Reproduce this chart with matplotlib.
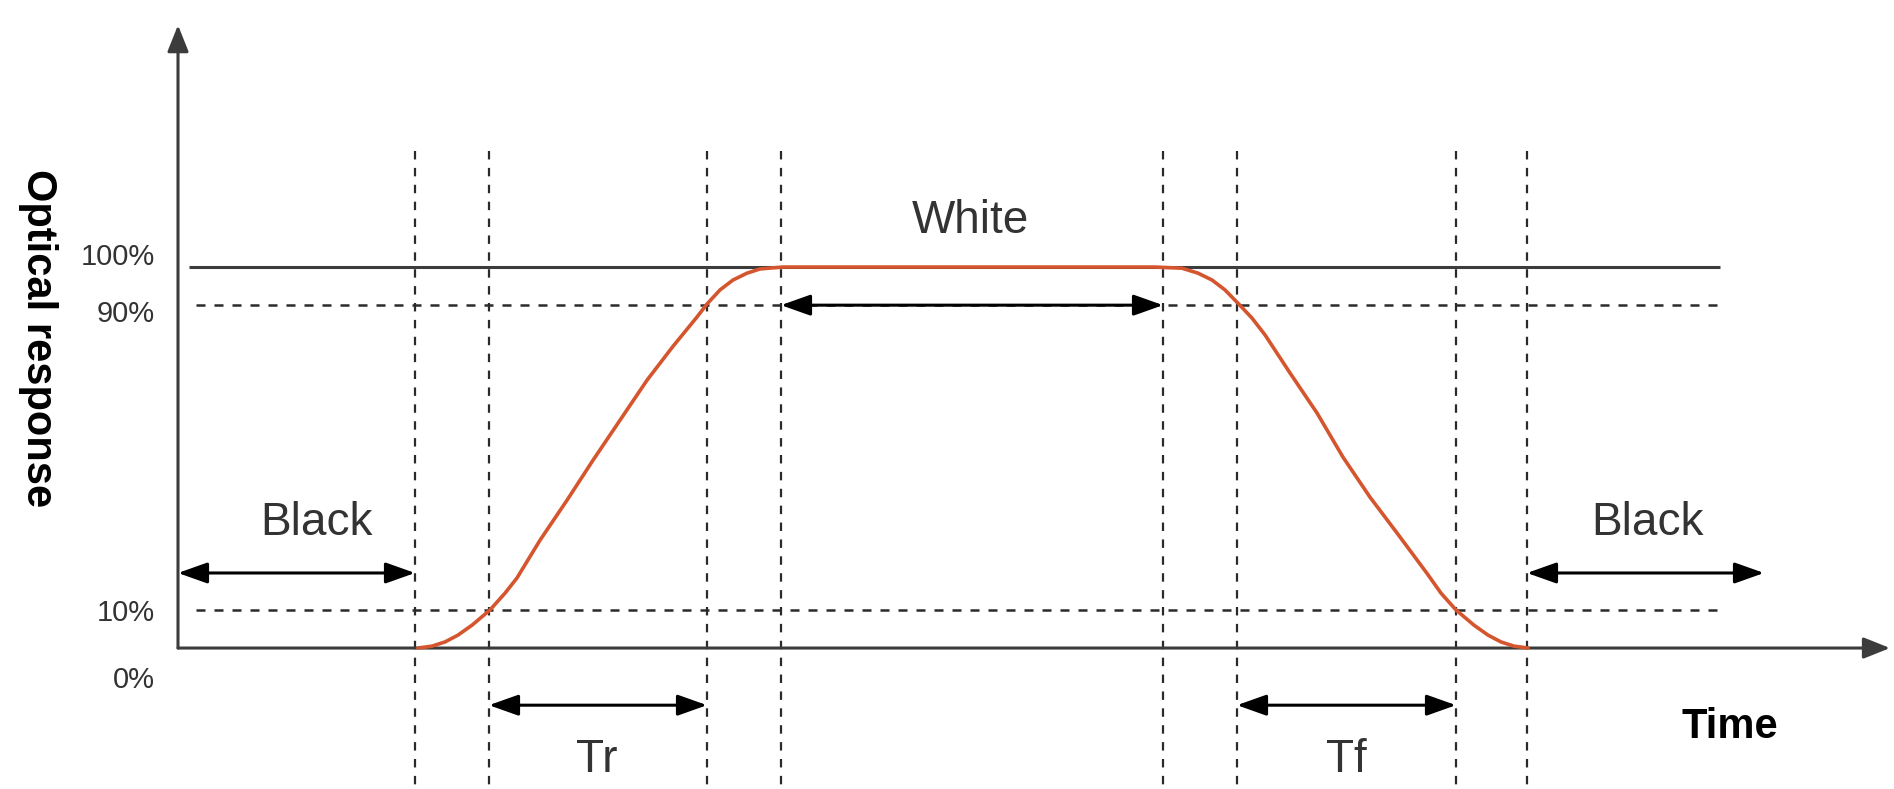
import matplotlib.pyplot as plt

plt.rcParams['font.family'] = ['Liberation Sans', 'DejaVu Sans']

# time axis in arbitrary units, response in percent
levels = [0, 10, 90, 100]
level_labels = ['0%', '10%', '90%', '100%']

# instants where the response passes 0/10/90/100 % (rise, then fall)
marks = [23.7, 31.1, 52.9, 60.3, 98.5, 105.9, 127.8, 134.9]

# optical response
resp_t = [24.0, 25.4, 26.7, 28.0, 29.4, 31.2, 32.7, 33.9, 36.2, 38.9, 41.5,
          44.2, 46.9, 49.5, 50.5, 51.9, 52.9, 54.2, 55.5, 56.9, 58.2, 59.5,
          60.5,
          97.7, 100.4, 102.0, 103.4, 104.7, 106.0, 107.4, 108.7, 111.2,
          113.9, 116.5, 119.2, 121.9, 124.9, 126.3, 127.8, 129.6, 131.0,
          132.3, 133.6, 135.0]
resp_v = [0, 0.5, 1.6, 3.4, 6.0, 10, 14.4, 18.4, 28.3, 38.8, 49.3,
          59.8, 70.3, 79.2, 82.4, 86.9, 90.3, 94.0, 96.6, 98.4, 99.5, 99.8,
          100,
          100, 99.7, 98.4, 96.6, 94.0, 90.5, 86.6, 82.2, 72.2,
          61.7, 50.1, 39.6, 30.2, 19.6, 14.4, 10, 6.0, 3.4,
          1.6, 0.5, 0]

fig = plt.figure(figsize=(18.94, 7.89), dpi=100)
ax = fig.add_axes([0, 0, 1, 1])
ax.set_xlim(-17.8, 171.6)
ax.set_ylim(-37.0, 170.1)
ax.axis('off')

axis_col = '#3c3c3c'
dash_col = '#2a2a2a'

# axes with arrow heads
ax.annotate('', xy=(171.2, 0), xytext=(0, 0),
            arrowprops=dict(arrowstyle='-|>,head_length=0.45,head_width=0.18',
                            mutation_scale=36, lw=2.2, color=axis_col,
                            shrinkA=0, shrinkB=0))
ax.annotate('', xy=(0, 163.5), xytext=(0, 0),
            arrowprops=dict(arrowstyle='-|>,head_length=0.45,head_width=0.18',
                            mutation_scale=36, lw=2.2, color=axis_col,
                            shrinkA=0, shrinkB=0))

# 100 % reference and 10 / 90 % thresholds
ax.plot([1.1, 154.2], [levels[3], levels[3]], color=axis_col, lw=2.2,
        solid_capstyle='butt')
for lv in levels[1:3]:
    ax.plot([1.8, 154.6], [lv, lv], color=dash_col, lw=1.8,
            dashes=(3.6, 3.6))

for t in marks:
    ax.plot([t, t], [130.4, -38], color=dash_col, lw=1.6, dashes=(3.8, 3.8))

for lv, lab in zip(levels, level_labels):
    off = {0: -8.4, 10: -0.8, 90: -2.4, 100: 2.6}[lv]
    ax.text(-2.3, lv + off, lab, ha='right', va='center', fontsize=21,
            color='#333333')

ax.plot(resp_t, resp_v, color='#d4552e', lw=2.6, solid_capstyle='round',
        solid_joinstyle='round', zorder=5)


def span(x0, x1, y):
    ax.annotate('', xy=(x1, y), xytext=(x0, y),
                arrowprops=dict(arrowstyle='<|-|>,head_length=0.45,head_width=0.16',
                                mutation_scale=40, lw=2.2, color='black',
                                shrinkA=0, shrinkB=0))


span(0, marks[0], 19.7)
span(marks[7], 158.6, 19.7)
span(marks[1], marks[2], -15.0)
span(marks[5], marks[6], -15.0)
span(marks[3], marks[4], 90)

txt = dict(fontsize=33, color='#333333', ha='center')
ax.text(79.2, 112.1, 'White', va='center', **txt)
ax.text(13.8, 32.8, 'Black', va='center', **txt)
ax.text(146.9, 32.8, 'Black', va='center', **txt)
ax.text(41.9, -32.6, 'Tr', va='baseline', **txt)
ax.text(116.8, -32.6, 'Tf', va='baseline', **txt)

ax.text(155.2, -20.7, 'Time', ha='center', va='center', fontsize=30,
        fontweight='bold', color='black')
ax.text(-14.0, 81.4, 'Optical response', ha='center', va='center',
        rotation=270, fontsize=30, fontweight='bold', color='black')

fig.savefig('out.png', dpi=100)
